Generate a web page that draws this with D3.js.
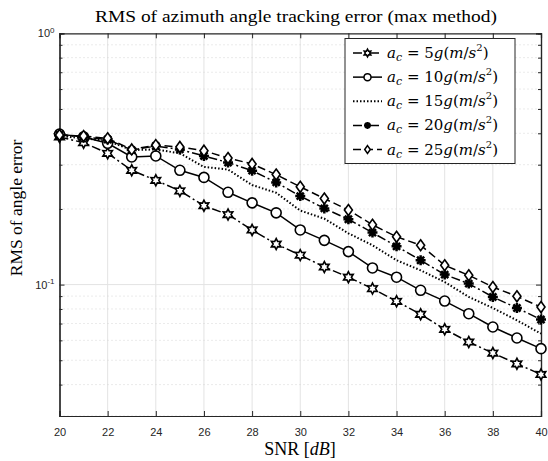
<!DOCTYPE html>
<html>
<head>
<meta charset="utf-8">
<title>RMS of azimuth angle tracking error</title>
<style>
  body { margin: 0; background: #fff; }
  .tick text { font-family: "Liberation Sans", Arial, sans-serif; font-size: 11px; fill: #262626; }
  .serif { font-family: "Liberation Serif", "DejaVu Serif", serif; fill: #000; }
  .math { font-family: "DejaVu Serif", "Liberation Serif", serif; fill: #000; }
</style>
</head>
<body>
<svg id="chart"></svg>
<script src="https://d3js.org/d3.v7.min.js"></script>
<script>
// SNR in dB
var snr = [20, 21, 22, 23, 24, 25, 26, 27, 28, 29, 30, 31, 32, 33, 34, 35, 36, 37, 38, 39, 40];

// RMS of angle error, one array per acceleration
var rms5  = [0.387, 0.367, 0.333, 0.285, 0.260, 0.236, 0.206, 0.190, 0.165, 0.145, 0.131, 0.1175, 0.107, 0.0964, 0.0858, 0.0762, 0.0664, 0.0591, 0.0534, 0.0484, 0.0439];
var rms10 = [0.397, 0.387, 0.365, 0.322, 0.325, 0.285, 0.267, 0.233, 0.2115, 0.193, 0.165, 0.150, 0.1353, 0.1165, 0.107, 0.0949, 0.0860, 0.0766, 0.0678, 0.0613, 0.0556];
var rms15 = [0.390, 0.382, 0.373, 0.343, 0.345, 0.333, 0.294, 0.287, 0.249, 0.232, 0.197, 0.183, 0.160, 0.1434, 0.125, 0.114, 0.1024, 0.0893, 0.0807, 0.0721, 0.0638];
var rms20 = [0.394, 0.387, 0.378, 0.343, 0.356, 0.345, 0.325, 0.306, 0.284, 0.255, 0.225, 0.201, 0.182, 0.161, 0.142, 0.125, 0.1096, 0.1009, 0.0893, 0.0807, 0.0726];
var rms25 = [0.394, 0.390, 0.382, 0.345, 0.359, 0.353, 0.341, 0.319, 0.302, 0.274, 0.245, 0.220, 0.198, 0.173, 0.155, 0.1434, 0.1194, 0.1089, 0.0978, 0.0898, 0.0814];

var accel = [5, 10, 15, 20, 25];
var xTicks = [20, 22, 24, 26, 28, 30, 32, 34, 36, 38, 40];

var width = 548, height = 461;
var margin = {top: 33.3, right: 7, bottom: 45, left: 59.5};

var svg = d3.select("#chart").attr("width", width).attr("height", height);

var x = d3.scaleLinear().domain([20, 40]).range([margin.left, width - margin.right]);
var y = d3.scaleLog().domain([0.03, 1]).range([height - margin.bottom, margin.top]);

var minorY = [0.03, 0.04, 0.05, 0.06, 0.07, 0.08, 0.09, 0.2, 0.3, 0.4, 0.5, 0.6, 0.7, 0.8, 0.9];
var majorY = [0.1, 1];

// grid
var grid = svg.append("g");
grid.selectAll(".vg").data(xTicks.slice(1, -1)).enter().append("line")
    .attr("x1", x).attr("x2", x)
    .attr("y1", y(0.03)).attr("y2", y(1))
    .attr("stroke", "#e3e3e3").attr("stroke-width", 1);
grid.selectAll(".hm").data(minorY).enter().append("line")
    .attr("x1", x(20)).attr("x2", x(40))
    .attr("y1", y).attr("y2", y)
    .attr("stroke", "#d6d6d6").attr("stroke-width", 1)
    .attr("stroke-dasharray", "1,3");
grid.selectAll(".hM").data([0.1]).enter().append("line")
    .attr("x1", x(20)).attr("x2", x(40))
    .attr("y1", y).attr("y2", y)
    .attr("stroke", "#e3e3e3").attr("stroke-width", 1);

// axes (ticks inward)
var xAxis = svg.append("g").attr("transform", "translate(0," + y(0.03) + ")")
    .call(d3.axisBottom(x).tickValues(xTicks).tickSize(-5).tickPadding(12).tickFormat(d3.format("d")));
var xTop = svg.append("g").attr("transform", "translate(0," + y(1) + ")")
    .call(d3.axisTop(x).tickValues(xTicks).tickSize(-5).tickFormat(""));

var yAxis = svg.append("g").attr("transform", "translate(" + x(20) + ",0)")
    .call(d3.axisLeft(y).tickValues(majorY).tickSize(-5).tickPadding(9).tickFormat(""));
var yMinorL = svg.append("g").attr("transform", "translate(" + x(20) + ",0)")
    .call(d3.axisLeft(y).tickValues(minorY).tickSize(-3).tickFormat(""));
var yRight = svg.append("g").attr("transform", "translate(" + x(40) + ",0)")
    .call(d3.axisRight(y).tickValues(majorY).tickSize(-5).tickFormat(""));
var yMinorR = svg.append("g").attr("transform", "translate(" + x(40) + ",0)")
    .call(d3.axisRight(y).tickValues(minorY).tickSize(-3).tickFormat(""));

[xAxis, xTop, yAxis, yMinorL, yRight, yMinorR].forEach(function(g) {
    g.selectAll("path.domain").attr("stroke", "#262626").attr("stroke-width", 1.2);
    g.selectAll(".tick line").attr("stroke", "#262626");
});

// y tick labels as 10^n
yAxis.selectAll(".tick").each(function(d) {
    var t = d3.select(this).select("text");
    var e = Math.round(Math.log10(d));
    t.attr("x", -5).attr("dy", "0.32em");
    t.append("tspan").text("10");
    t.append("tspan").attr("dy", "-0.55em").attr("font-size", "8px").text(e);
});

// series
var series = [
    {a: 5,  vals: rms5,  dash: "9,3,2,3", marker: "hexagram"},
    {a: 10, vals: rms10, dash: null,      marker: "circle"},
    {a: 15, vals: rms15, dash: "1.5,2",   marker: null},
    {a: 20, vals: rms20, dash: "9,3,2,3", marker: "asterisk"},
    {a: 25, vals: rms25, dash: "8,4",     marker: "diamond"}
];

function markerPath(type, r) {
    if (type === "circle") {
        return "M" + r + ",0A" + r + "," + r + " 0 1,1 " + (-r) + ",0A" + r + "," + r + " 0 1,1 " + r + ",0Z";
    }
    if (type === "diamond") {
        return "M0," + (-r * 1.1) + "L" + (r * 0.8) + ",0L0," + (r * 1.1) + "L" + (-r * 0.8) + ",0Z";
    }
    if (type === "hexagram") {
        var p = [];
        for (var i = 0; i < 12; i++) {
            var ang = Math.PI / 2 + i * Math.PI / 6;
            var rr = i % 2 === 0 ? r * 1.1 : r * 0.6;
            p.push([rr * Math.cos(ang), -rr * Math.sin(ang)]);
        }
        return "M" + p.map(function(q) { return q[0].toFixed(2) + "," + q[1].toFixed(2); }).join("L") + "Z";
    }
    if (type === "asterisk") {
        var s = "";
        for (var k = 0; k < 4; k++) {
            var a = k * Math.PI / 4;
            var dx = r * Math.cos(a), dy = r * Math.sin(a);
            s += "M" + (-dx).toFixed(2) + "," + (-dy).toFixed(2) + "L" + dx.toFixed(2) + "," + dy.toFixed(2);
        }
        return s;
    }
    return "";
}

var line = d3.line()
    .x(function(d) { return x(d[0]); })
    .y(function(d) { return y(d[1]); });

var plot = svg.append("g");
series.forEach(function(s) {
    var pts = snr.map(function(v, i) { return [v, s.vals[i]]; });
    plot.append("path")
        .datum(pts)
        .attr("d", line)
        .attr("fill", "none")
        .attr("stroke", "#000")
        .attr("stroke-width", s.marker ? 1.5 : 2)
        .attr("stroke-dasharray", s.dash);
    if (s.marker) {
        plot.selectAll(null).data(pts).enter().append("path")
            .attr("transform", function(d) { return "translate(" + x(d[0]) + "," + y(d[1]) + ")"; })
            .attr("d", markerPath(s.marker, 5))
            .attr("fill", s.marker === "asterisk" ? "#000" : "#fff")
            .attr("stroke", "#000")
            .attr("stroke-width", s.marker === "asterisk" ? 2.5 : 1.6);
    }
});

// title
svg.append("text").attr("class", "serif")
    .attr("x", 296).attr("y", 22)
    .attr("text-anchor", "middle").attr("font-size", "17.5px")
    .attr("textLength", 402).attr("lengthAdjust", "spacingAndGlyphs")
    .text("RMS of azimuth angle tracking error (max method)");

// x label
var xl = svg.append("text").attr("class", "serif")
    .attr("x", 300).attr("y", 455).attr("text-anchor", "middle").attr("font-size", "18px");
xl.append("tspan").text("SNR [");
xl.append("tspan").attr("font-style", "italic").text("dB");
xl.append("tspan").text("]");

// y label
svg.append("text").attr("class", "serif")
    .attr("transform", "translate(22,208) rotate(-90)")
    .attr("text-anchor", "middle").attr("font-size", "17.5px")
    .text("RMS of angle error");

// legend
var lg = svg.append("g");
lg.append("rect").attr("x", 345).attr("y", 38.5).attr("width", 170).attr("height", 125)
    .attr("fill", "#fff").attr("stroke", "#262626").attr("stroke-width", 1);
var rowY = d3.scalePoint().domain(accel).range([53, 149.5]);
series.forEach(function(s) {
    var yy = rowY(s.a);
    lg.append("line").attr("x1", 353).attr("x2", 382).attr("y1", yy).attr("y2", yy)
        .attr("stroke", "#000").attr("stroke-width", s.marker ? 1.5 : 2)
        .attr("stroke-dasharray", s.dash);
    if (s.marker) {
        lg.append("path").attr("transform", "translate(367.5," + yy + ")")
            .attr("d", markerPath(s.marker, 3.5))
            .attr("fill", s.marker === "asterisk" ? "#000" : "#fff")
            .attr("stroke", "#000").attr("stroke-width", s.marker === "asterisk" ? 2.2 : 1.5);
    }
    var t = lg.append("text").attr("class", "math").attr("x", 387).attr("y", yy + 5).attr("font-size", "15px");
    t.append("tspan").attr("font-style", "italic").text("a");
    t.append("tspan").attr("font-style", "italic").attr("font-size", "11px").attr("dy", 3).text("c");
    t.append("tspan").attr("dy", -3).text(" = " + s.a);
    t.append("tspan").attr("font-style", "italic").text("g");
    t.append("tspan").text("(");
    t.append("tspan").attr("font-style", "italic").text("m");
    t.append("tspan").text("/");
    t.append("tspan").attr("font-style", "italic").text("s");
    t.append("tspan").attr("font-size", "10px").attr("dy", -7).text("2");
    t.append("tspan").attr("dy", 7).text(")");
});
</script>
</body>
</html>
